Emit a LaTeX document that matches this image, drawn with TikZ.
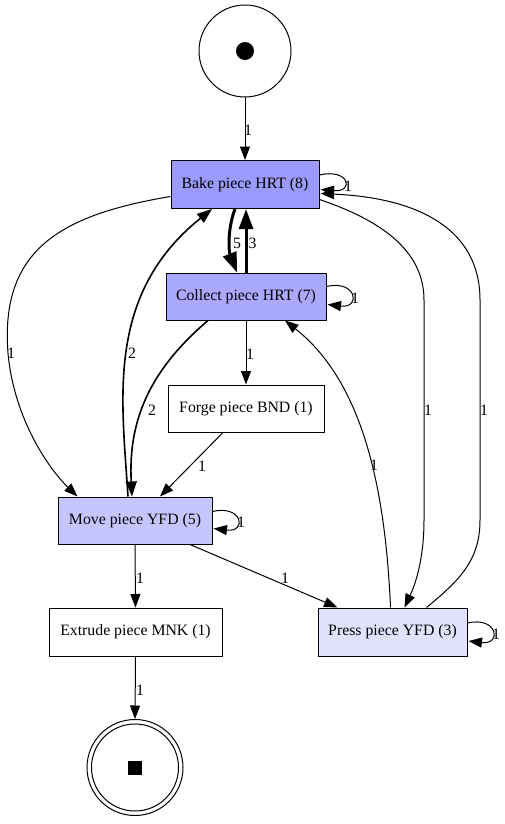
\documentclass[tikz,border=0pt]{standalone}
\usepackage{fontspec}
\setmainfont{Liberation Serif}
\usetikzlibrary{arrows.meta,calc}
\definecolor{fbake}{HTML}{9B9BFF}
\definecolor{fcollect}{HTML}{A9A9FF}
\definecolor{fmove}{HTML}{C6C6FF}
\definecolor{fpress}{HTML}{E2E2FF}
\begin{document}
\begin{tikzpicture}[x=1pt,y=-1pt,
  font=\fontsize{15.8}{18}\selectfont,
  trans/.style={draw,line width=1pt,rectangle,inner sep=0pt},
  place/.style={draw,line width=1pt,circle,inner sep=0pt},
  edge/.style={line width=1pt,-{Triangle[length=13.5pt,width=10pt]}},
  edgetwo/.style={line width=1.6pt,-{Triangle[length=15pt,width=11pt]}},
  edgethick/.style={line width=3pt,-{Triangle[length=20pt,width=14pt]}},
  lbl/.style={inner sep=0pt}]
\useasboundingbox (0,0) rectangle (505,824);
\fill[white] (0,0) rectangle (505,824);
% places
\node[place,minimum size=92pt] (start) at (245,51) {};
\fill (start.center) circle (9);
\node[place,minimum size=96pt] (endp) at (135,767.5) {};
\draw[line width=1pt] (endp.center) circle (43.5);
\fill ($(endp.center)+(-7,-7)$) rectangle ($(endp.center)+(7,7)$);
% transitions
\node[trans,fill=fbake,minimum width=148pt,minimum height=48pt] (bake) at (245,184.5) {Bake piece HRT (8)};
\node[trans,fill=fcollect,minimum width=160pt,minimum height=47pt] (collect) at (246,296.5) {Collect piece HRT (7)};
\node[trans,fill=white,minimum width=156pt,minimum height=47pt] (forge) at (246,408.5) {Forge piece BND (1)};
\node[trans,fill=fmove,minimum width=154pt,minimum height=47pt] (move) at (135,520.5) {Move piece YFD (5)};
\node[trans,fill=white,minimum width=173pt,minimum height=48pt] (extrude) at (135.5,632) {Extrude piece MNK (1)};
\node[trans,fill=fpress,minimum width=149pt,minimum height=48pt] (press) at (392.5,632) {Press piece YFD (3)};
% edges
\draw[edge] (start.south) -- (bake.north);
\draw[edge] ($(bake.east)+(0,-9.5)$) .. controls +(30,-7) and +(34,3) .. ($(bake.east)+(1,5)$);
\draw[edgethick] ($(bake.south)+(-10,0)$) .. controls (227,230) and (229,252) .. ($(collect.north)+(-9,0)$);
\draw[edgethick] ($(collect.north)+(0,0)$) -- ($(bake.south)+(1,0)$);
\draw[edge] ($(bake.west)+(0,12)$) .. controls (60,215) and (0,250) .. (8,353) .. controls (14,420) and (50,470) .. ($(move.north west)+(20,0)$);
\draw[edgetwo] ($(move.north)+(-7,0)$) .. controls (122,400) and (105,295) .. ($(bake.south)+(-33,0)$);
\draw[edge] ($(collect.east)+(0,-10)$) .. controls +(30,-7) and +(34,4) .. ($(collect.east)+(1,8)$);
\draw[edgetwo] ($(collect.south)+(-38,0)$) .. controls (150,370) and (128,420) .. ($(move.north)+(-3,0)$);
\draw[edge] (collect.south) -- (forge.north);
\draw[edge] ($(forge.south)+(-23,0)$) -- ($(move.north)+(25,0)$);
\draw[edge] ($(move.east)+(0,-9)$) .. controls +(30,-7) and +(34,4) .. ($(move.east)+(1,8)$);
\draw[edge] (move.south) -- (extrude.north);
\draw[edge] ($(move.south)+(55,0)$) -- ($(press.north west)+(20,0)$);
\draw[edge] ($(bake.east)+(0,15)$) .. controls (380,220) and (424,250) .. (424,300) -- (424,520) .. controls (424,560) and (415,585) .. ($(press.north)+(12,0)$);
\draw[edge] ($(press.north)+(34,0)$) .. controls (460,580) and (480,560) .. (480,520) -- (480,300) .. controls (480,230) and (420,198) .. ($(bake.east)+(1,9)$);
\draw[edge] ($(press.north)+(-2,0)$) .. controls (385,480) and (360,380) .. ($(collect.south)+(39,0)$);
\draw[edge] ($(press.east)+(0,-9)$) .. controls +(30,-7) and +(34,4) .. ($(press.east)+(1,9)$);
\draw[edge] (extrude.south) -- (endp.north);
% labels
\node[lbl] (l1) at (248,130) {1};
\node[lbl] (l2) at (348,186) {1};
\node[lbl] (l3) at (237,243) {5};
\node[lbl] (l4) at (252.5,243) {3};
\node[lbl] (l5) at (11,353) {1};
\node[lbl] (l6) at (132,353) {2};
\node[lbl] (l7) at (355,298) {1};
\node[lbl] (l8) at (250,354) {1};
\node[lbl] (l9) at (152,410) {2};
\node[lbl] (l10) at (428,410) {1};
\node[lbl] (l11) at (484,410) {1};
\node[lbl] (l12) at (374,465) {1};
\node[lbl] (l13) at (202,466) {1};
\node[lbl] (l14) at (241,522) {1};
\node[lbl] (l15) at (140,578) {1};
\node[lbl] (l16) at (285,578) {1};
\node[lbl] (l17) at (496,634) {1};
\node[lbl] (l18) at (140,690) {1};
\end{tikzpicture}
\end{document}
